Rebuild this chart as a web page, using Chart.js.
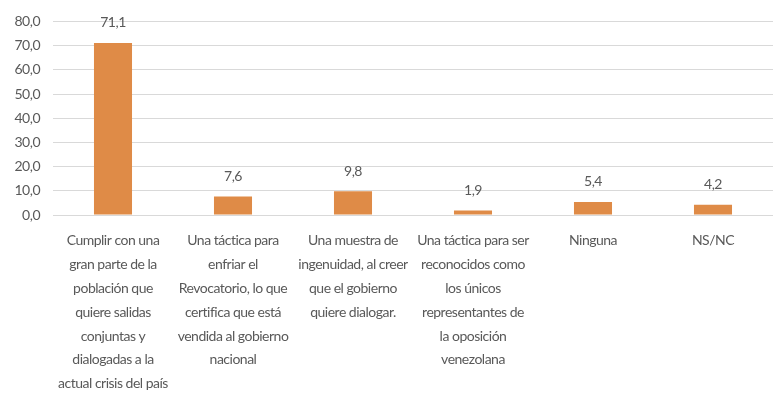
<!DOCTYPE html>
<html><head><meta charset="utf-8">
<script src="https://cdn.jsdelivr.net/npm/chart.js@4/dist/chart.umd.min.js"></script>
<style>html,body{margin:0;padding:0;background:#fff}#wrap{width:780px;height:401px}</style>
</head><body><div id="wrap"><canvas id="c" width="780" height="401"></canvas></div>
<script>
const categories = [
  ["Cumplir con una","gran parte de la","población que","quiere salidas","conjuntas y","dialogadas a la","actual crisis del país"],
  ["Una táctica para","enfriar el","Revocatorio, lo que","certifica que está","vendida al gobierno","nacional"],
  ["Una muestra de","ingenuidad, al creer","que el gobierno","quiere dialogar."],
  ["Una táctica para ser","reconocidos como","los únicos","representantes de","la oposición","venezolana"],
  ["Ninguna"],
  ["NS/NC"]
];
const values = [71.1, 7.6, 9.8, 1.9, 5.4, 4.2];
const yTicks = [0, 10, 20, 30, 40, 50, 60, 70, 80];

const FONT = "Lato, 'Open Sans', sans-serif";
const fmt = v => Number(v).toFixed(1).replace('.', ',');

const tightText = {
  id: 'tightText',
  beforeInit(chart) { chart.ctx.letterSpacing = '-0.5px'; },
  beforeDraw(chart) { chart.ctx.letterSpacing = '-0.5px'; }
};

const valueLabels = {
  id: 'valueLabels',
  afterDatasetsDraw(chart) {
    const ctx = chart.ctx;
    const meta = chart.getDatasetMeta(0);
    ctx.save();
    ctx.letterSpacing = '-0.5px';
    ctx.fillStyle = '#595959';
    ctx.font = '14px ' + FONT;
    ctx.textAlign = 'center';
    ctx.textBaseline = 'middle';
    meta.data.forEach((bar, i) => {
      ctx.fillText(fmt(chart.data.datasets[0].data[i]), bar.x, bar.y - 20);
    });
    ctx.restore();
  }
};

new Chart(document.getElementById('c'), {
  type: 'bar',
  data: {
    labels: categories,
    datasets: [{ data: values, backgroundColor: '#DF8B47', borderWidth: 0,
      categoryPercentage: 1.0, barPercentage: 0.317 }]
  },
  options: {
    responsive: false, animation: false,
    devicePixelRatio: 1,
    layout: { padding: { top: 14, right: 7, left: 0, bottom: 0 } },
    plugins: { legend: { display: false }, tooltip: { enabled: false } },
    scales: {
      x: {
        grid: { display: false },
        border: { display: false },
        ticks: { color: '#595959', font: { family: FONT, size: 14, lineHeight: 23.8/14 }, maxRotation: 0, autoSkip: false, padding: 6 },
        afterFit(scale) { scale.height = 186; }
      },
      y: {
        min: 0, max: 80,
        afterBuildTicks(scale) { scale.ticks = yTicks.map(v => ({ value: v })); },
        grid: { color: '#d9d9d9', lineWidth: 1, drawTicks: false },
        border: { display: false },
        ticks: { color: '#595959', font: { family: FONT, size: 14 }, padding: 13, callback: v => fmt(v) },
        afterFit(scale) { scale.width = 53; }
      }
    }
  },
  plugins: [tightText, valueLabels]
});
</script></body></html>
